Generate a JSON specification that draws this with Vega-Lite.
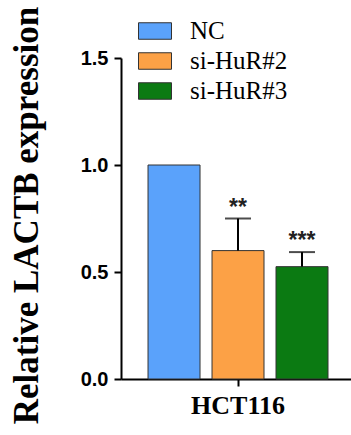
{
  "$schema": "https://vega.github.io/schema/vega-lite/v6.json",
  "width": 230,
  "height": 321,
  "autosize": {"type": "none"},
  "padding": {"left": 121, "top": 58, "right": 0, "bottom": 56},
  "background": "white",
  "config": {
    "view": {"stroke": null},
    "axis": {"grid": false, "domainColor": "black", "domainWidth": 2, "tickColor": "black", "tickWidth": 2, "tickSize": 7, "labelColor": "black", "titleColor": "black"}
  },
  "data": {
    "values": [
      {"cell": "HCT116", "group": "NC", "value": 1.0, "upper": null, "star": ""},
      {"cell": "HCT116", "group": "si-HuR#2", "value": 0.6, "upper": 0.75, "star": "**"},
      {"cell": "HCT116", "group": "si-HuR#3", "value": 0.525, "upper": 0.593, "star": "***"}
    ]
  },
  "encoding": {
    "x": {
      "field": "cell", "type": "nominal",
      "scale": {"paddingInner": 0, "paddingOuter": 0.099, "align": 0.553},
      "axis": {"title": null, "labelAngle": 0, "labelFont": "Liberation Serif", "labelFontWeight": "bold", "labelFontSize": 26, "labelPadding": 6}
    },
    "xOffset": {"field": "group", "type": "nominal", "scale": {"paddingInner": 0.1875, "paddingOuter": 0.09375}}
  },
  "layer": [
    {
      "mark": {"type": "bar", "stroke": "#333333", "strokeWidth": 1},
      "encoding": {
        "y": {
          "field": "value", "type": "quantitative",
          "scale": {"domain": [0, 1.5], "nice": false},
          "axis": {"title": "Relative LACTB expression", "values": [0, 0.5, 1.0, 1.5], "format": ".1f", "labelFont": "Liberation Sans", "labelFontWeight": "bold", "labelFontSize": 20, "labelPadding": 6, "titleFont": "Liberation Serif", "titleFontWeight": "bold", "titleFontSize": 35, "titleX": -84, "titleY": 157, "titleAngle": -90, "titleAlign": "center", "titleBaseline": "alphabetic"}
        },
        "fill": {
          "field": "group", "type": "nominal",
          "scale": {"domain": ["NC", "si-HuR#2", "si-HuR#3"], "range": ["#5aa2fb", "#fca146", "#0b7a12"]},
          "legend": {"orient": "none", "legendX": 17, "legendY": -44, "title": null, "symbolType": "M-1,-0.5H1V0.5H-1Z", "symbolSize": 1089, "symbolStrokeColor": "#333333", "symbolStrokeWidth": 1, "symbolOpacity": 1, "labelFont": "Liberation Serif", "labelFontSize": 25, "labelColor": "black", "labelOffset": 18, "rowPadding": -5, "padding": 0}
        }
      }
    },
    {
      "transform": [{"filter": "datum.upper != null"}],
      "mark": {"type": "rule", "strokeWidth": 2, "color": "black"},
      "encoding": {
        "y": {"field": "value", "type": "quantitative", "scale": {"domain": [0, 1.5], "nice": false}},
        "y2": {"field": "upper"}
      }
    },
    {
      "transform": [{"filter": "datum.upper != null"}],
      "mark": {"type": "tick", "orient": "horizontal", "size": 26, "thickness": 2, "color": "black"},
      "encoding": {
        "y": {"field": "upper", "type": "quantitative", "scale": {"domain": [0, 1.5], "nice": false}}
      }
    },
    {
      "transform": [{"filter": "datum.upper != null"}],
      "mark": {"type": "text", "font": "Liberation Sans", "fontWeight": "bold", "fontSize": 23, "baseline": "alphabetic", "dy": -4, "color": "#222222"},
      "encoding": {
        "y": {"field": "upper", "type": "quantitative", "scale": {"domain": [0, 1.5], "nice": false}},
        "text": {"field": "star"}
      }
    }
  ]
}
